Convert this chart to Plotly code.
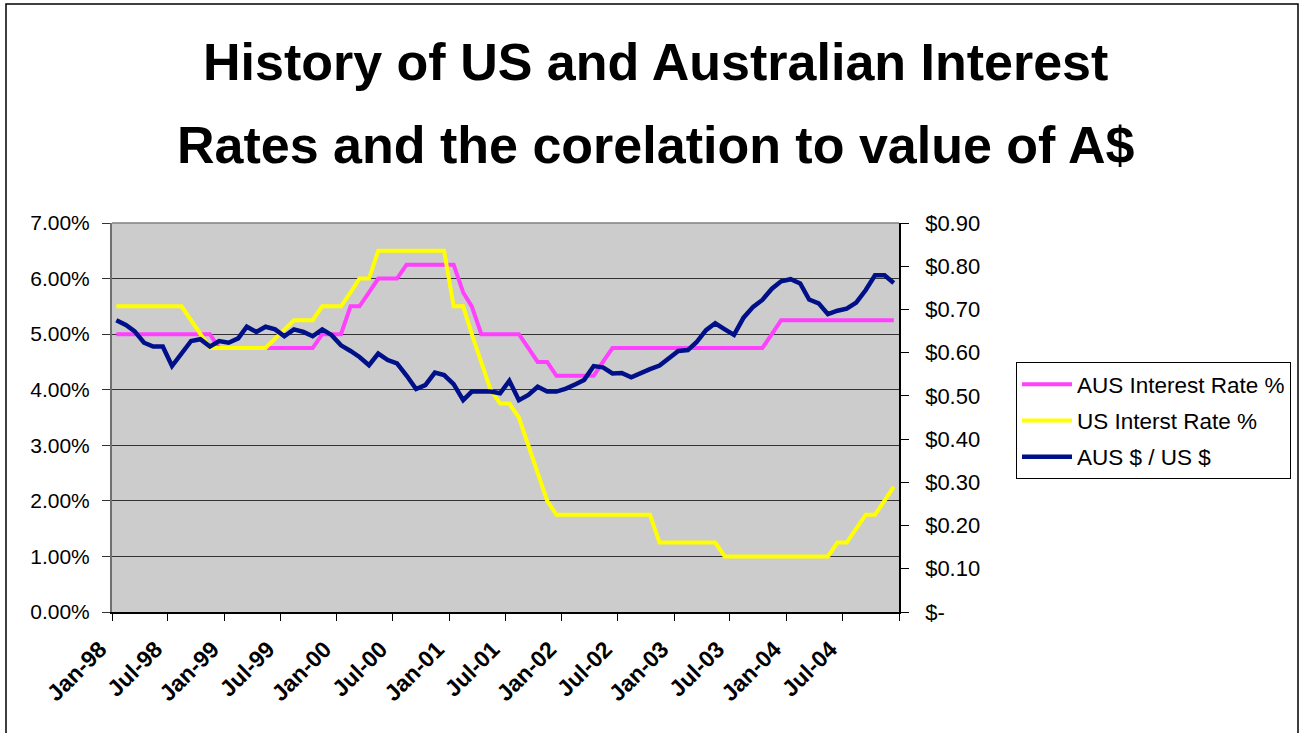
import plotly.graph_objects as go
import datetime as dt

# ---- data (monthly, Jan-98 .. Dec-04) ----
start_year = 1998
n_months = 84
dates = [dt.date(start_year + m // 12, m % 12 + 1, 15).isoformat() for m in range(n_months)]

aus_rate = (
    [5.00] * 11 +            # Jan-98 .. Nov-98
    [4.75] * 11 +            # Dec-98 .. Oct-99
    [5.00] * 3 +             # Nov-99 .. Jan-00
    [5.50] * 2 +             # Feb-00 .. Mar-00
    [5.75] +                 # Apr-00
    [6.00] * 3 +             # May-00 .. Jul-00
    [6.25] * 6 +             # Aug-00 .. Jan-01
    [5.75, 5.50] +           # Feb-01, Mar-01
    [5.00] * 5 +             # Apr-01 .. Aug-01
    [4.75] +                 # Sep-01
    [4.50] * 2 +             # Oct-01 .. Nov-01
    [4.25] * 5 +             # Dec-01 .. Apr-02
    [4.50] +                 # May-02
    [4.75] * 17 +            # Jun-02 .. Oct-03
    [5.00] +                 # Nov-03
    [5.25] * 13              # Dec-03 .. Dec-04
)

us_rate = (
    [5.50] * 8 +             # Jan-98 .. Aug-98
    [5.25, 5.00] +           # Sep-98, Oct-98
    [4.75] * 7 +             # Nov-98 .. May-99
    [4.92, 5.08] +           # Jun-99, Jul-99
    [5.25] * 3 +             # Aug-99 .. Oct-99
    [5.50] * 3 +             # Nov-99 .. Jan-00
    [5.75] +                 # Feb-00
    [6.00] * 2 +             # Mar-00 .. Apr-00
    [6.50] * 8 +             # May-00 .. Dec-00
    [5.50] * 2 +             # Jan-01 .. Feb-01
    [5.00, 4.50, 4.00] +     # Mar-01 .. May-01
    [3.75] * 2 +             # Jun-01 .. Jul-01
    [3.50, 3.00, 2.50, 2.00] +  # Aug-01 .. Nov-01
    [1.75] * 11 +            # Dec-01 .. Oct-02
    [1.25] * 7 +             # Nov-02 .. May-03
    [1.00] * 12 +            # Jun-03 .. May-04
    [1.25] * 2 +             # Jun-04 .. Jul-04
    [1.50] +                 # Aug-04
    [1.75] * 2 +             # Sep-04 .. Oct-04
    [2.00, 2.25]             # Nov-04, Dec-04
)

aud_usd = [
    0.675, 0.664, 0.650, 0.623, 0.614, 0.614, 0.569, 0.596, 0.627, 0.631, 0.614, 0.627,
    0.623, 0.633, 0.660, 0.648, 0.660, 0.654, 0.638, 0.654, 0.648, 0.638, 0.654, 0.641,
    0.617, 0.604, 0.590, 0.571, 0.598, 0.583, 0.575, 0.547, 0.516, 0.525, 0.554, 0.548,
    0.527, 0.490, 0.510, 0.510, 0.510, 0.506, 0.535, 0.490, 0.502, 0.521, 0.510, 0.510,
    0.517, 0.527, 0.537, 0.569, 0.566, 0.552, 0.553, 0.543, 0.554, 0.562, 0.570, 0.588,
    0.604, 0.606, 0.624, 0.652, 0.668, 0.654, 0.641, 0.681, 0.706, 0.722, 0.748, 0.765,
    0.770, 0.760, 0.723, 0.714, 0.689, 0.697, 0.702, 0.716, 0.745, 0.779, 0.779, 0.761,
]

x_tick_vals = [dt.date(1998 + k // 2, 1 if k % 2 == 0 else 7, 1).isoformat() for k in range(15)]
x_tick_text = ["Jan-98", "Jul-98", "Jan-99", "Jul-99", "Jan-00", "Jul-00", "Jan-01",
               "Jul-01", "Jan-02", "Jul-02", "Jan-03", "Jul-03", "Jan-04", "Jul-04", ""]
left_tick_vals = [0, 1, 2, 3, 4, 5, 6, 7]
left_tick_text = ["0.00%", "1.00%", "2.00%", "3.00%", "4.00%", "5.00%", "6.00%", "7.00%"]
right_tick_vals = [0, 0.1, 0.2, 0.3, 0.4, 0.5, 0.6, 0.7, 0.8, 0.9]
right_tick_text = ["$-", "$0.10", "$0.20", "$0.30", "$0.40", "$0.50", "$0.60", "$0.70", "$0.80", "$0.90"]

series_names = ["AUS Interest Rate %", "US Interst Rate %", "AUS $ / US $"]
title_lines = ["History of US and Australian Interest", "Rates and the corelation to value of A$"]

FONT = "Liberation Sans, Arial, Helvetica, sans-serif"

# ---- figure ----
W, H = 1305, 733
L, R, T, B = 112, 406, 223, 121
pw, ph = W - L - R, H - T - B


def px(x):
    return (x - L) / pw


def py(y):
    return (H - B - y) / ph


fig = go.Figure()
fig.add_trace(go.Scatter(x=dates, y=aus_rate, name=series_names[0], mode="lines",
                         line=dict(color="#ff40ff", width=4), legendgroup="g1"))
fig.add_trace(go.Scatter(x=dates, y=us_rate, name=series_names[1], mode="lines",
                         line=dict(color="#ffff00", width=4), legendgroup="g2"))
fig.add_trace(go.Scatter(x=dates, y=aud_usd, name=series_names[2], mode="lines",
                         line=dict(color="#001088", width=4.5), legendgroup="g3", yaxis="y2"))

fig.update_layout(
    width=W, height=H,
    margin=dict(l=L, r=R, t=T, b=B, pad=0),
    paper_bgcolor="white",
    plot_bgcolor="#cccccc",
    font=dict(family=FONT, color="black", size=21),
    showlegend=True,
    legend=dict(x=px(1016), y=py(362), xanchor="left", yanchor="top",
                bgcolor="white", bordercolor="black", borderwidth=1,
                font=dict(size=22.5, family=FONT), traceorder="grouped", tracegroupgap=4,
                itemwidth=50),
    xaxis=dict(type="date", range=["1998-01-01", "2005-01-01"],
               tickvals=x_tick_vals, ticktext=x_tick_text, tickangle=-45,
               tickfont=dict(size=23, family=FONT, weight="bold"),
               ticks="outside", ticklen=7, tickcolor="black", tickwidth=1,
               showline=True, linecolor="black", linewidth=1.5,
               showgrid=False, zeroline=False, ticklabelstandoff=6, ticklabelshift=-12),
    yaxis=dict(range=[0, 7], tickvals=left_tick_vals, ticktext=left_tick_text,
               tickfont=dict(size=21, family=FONT),
               ticks="outside", ticklen=8, tickcolor="#333333",
               showline=True, linecolor="#707070", linewidth=2,
               showgrid=True, gridcolor="#333333", gridwidth=1, zeroline=False,
               ticklabelstandoff=8),
    yaxis2=dict(range=[0, 0.9], tickvals=right_tick_vals, ticktext=right_tick_text,
                overlaying="y", side="right",
                tickfont=dict(size=22, family=FONT),
                ticks="outside", ticklen=8, tickcolor="black",
                showline=True, linecolor="black", linewidth=1.5,
                showgrid=False, zeroline=False, ticklabelstandoff=12),
    annotations=[
        dict(text=title_lines[0], x=px(655), y=py(61.7), xref="paper", yref="paper",
             xanchor="center", yanchor="middle", showarrow=False,
             font=dict(size=52, family=FONT, weight="bold", color="black")),
        dict(text=title_lines[1], x=px(655), y=py(144.5), xref="paper", yref="paper",
             xanchor="center", yanchor="middle", showarrow=False,
             font=dict(size=52, family=FONT, weight="bold", color="black")),
    ],
    shapes=[
        dict(type="rect", xref="paper", yref="paper", x0=px(6), x1=px(1298), y0=py(745), y1=py(4),
             line=dict(color="black", width=1.5), fillcolor="rgba(0,0,0,0)", layer="above"),
        dict(type="line", xref="paper", yref="paper", x0=0, x1=1, y0=1, y1=1,
             line=dict(color="#808080", width=1.5), layer="above"),
    ],
)

fig.write_html("out.html", config={"displayModeBar": False},
               post_script="document.body.style.margin='0px';")
